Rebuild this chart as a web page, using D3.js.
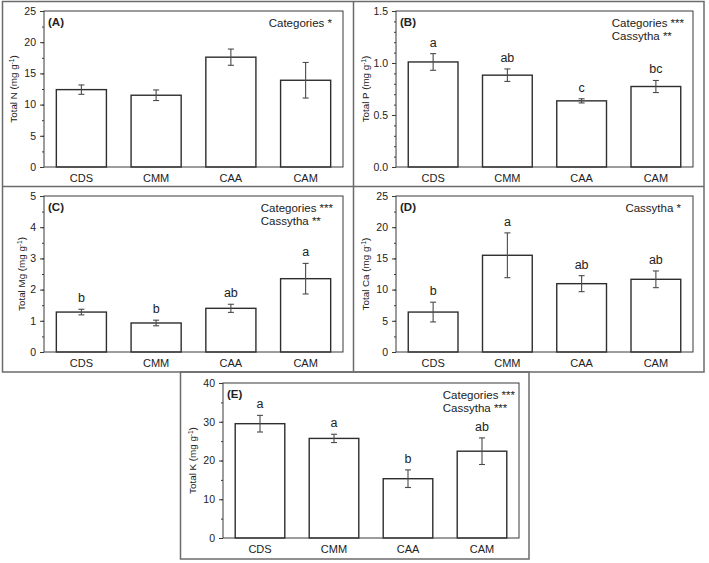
<!DOCTYPE html>
<meta charset="utf-8">
<html>
<style>
body { margin: 0; background: #fff; }
svg { display: block; font-family: "Liberation Sans", Arial, sans-serif; }
.frame { fill: none; stroke: #6b6b6b; stroke-width: 1.5; }
.plotbox { fill: none; stroke: #3a3a3a; stroke-width: 1; }
.bar { fill: #fff; stroke: #2e2e2e; stroke-width: 1.4; }
.err { stroke: #4a4a4a; stroke-width: 1.1; fill: none; }
.tick line { stroke: #3a3a3a; }
.domain { display: none; }
</style>
<body>
<script src="https://cdn.jsdelivr.net/npm/d3@7"></script>
<script>

// categories
var categories = ["CDS", "CMM", "CAA", "CAM"];

// (A) total N
var nMean = [12.4, 11.5, 17.6, 13.9];
var nErr = [0.75, 0.85, 1.3, 2.85];
// (B) total P
var pMean = [1.01, 0.883, 0.636, 0.774];
var pErr = [0.08, 0.06, 0.02, 0.058];
var pLetters = ["a", "ab", "c", "bc"];
// (C) total Mg
var mgMean = [1.28, 0.93, 1.40, 2.35];
var mgErr = [0.09, 0.09, 0.13, 0.49];
var mgLetters = ["b", "b", "ab", "a"];
// (D) total Ca
var caMean = [6.4, 15.5, 10.95, 11.65];
var caErr = [1.58, 3.59, 1.28, 1.34];
var caLetters = ["b", "a", "ab", "ab"];
// (E) total K
var kMean = [29.5, 25.7, 15.3, 22.4];
var kErr = [2.15, 1.07, 2.27, 3.43];
var kLetters = ["a", "a", "b", "ab"];

// stats text
var statsA = ["Categories *"];
var statsB = ["Categories ***", "Cassytha **"];
var statsC = ["Categories ***", "Cassytha **"];
var statsD = ["Cassytha *"];
var statsE = ["Categories ***", "Cassytha ***"];

var width = 709, height = 563;

var svg = d3.select("body").append("svg")
    .attr("width", width)
    .attr("height", height);

// outer frames
var frames = svg.append("g");
frames.append("rect").attr("class", "frame")
    .attr("x", 2.5).attr("y", 1.5).attr("width", 701.5).attr("height", 370.5);
frames.append("line").attr("class", "frame")
    .attr("x1", 353.5).attr("x2", 353.5).attr("y1", 1.5).attr("y2", 372);
frames.append("line").attr("class", "frame")
    .attr("x1", 2.5).attr("x2", 704).attr("y1", 186.5).attr("y2", 186.5);
frames.append("rect").attr("class", "frame")
    .attr("x", 180.5).attr("y", 372).attr("width", 348.5).attr("height", 187);

// panels: data + where they go
var panels = [
  {tag: "(A)", el: "N", mean: nMean, err: nErr, letters: null, stats: statsA,
   max: 25, step: 5, minor: 2.5, fmt: d3.format("d"),
   x0: 44, x1: 343, y0: 11, y1: 167, lab: 17, statPad: 11},
  {tag: "(B)", el: "P", mean: pMean, err: pErr, letters: pLetters, stats: statsB,
   max: 1.5, step: 0.5, minor: 0.1, fmt: d3.format(".1f"),
   x0: 396, x1: 693, y0: 11, y1: 167, lab: 369, statPad: 9},
  {tag: "(C)", el: "Mg", mean: mgMean, err: mgErr, letters: mgLetters, stats: statsC,
   max: 5, step: 1, minor: 0.5, fmt: d3.format("d"),
   x0: 44, x1: 343, y0: 196, y1: 352, lab: 25, statPad: 10},
  {tag: "(D)", el: "Ca", mean: caMean, err: caErr, letters: caLetters, stats: statsD,
   max: 25, step: 5, minor: 2.5, fmt: d3.format("d"),
   x0: 396, x1: 693, y0: 196, y1: 352, lab: 369, statPad: 12},
  {tag: "(E)", el: "K", mean: kMean, err: kErr, letters: kLetters, stats: statsE,
   max: 40, step: 10, minor: 5, fmt: d3.format("d"),
   x0: 223, x1: 519, y0: 383, y1: 538, lab: 196, statPad: 4}
];

panels.forEach(function(p) {
  var g = svg.append("g");

  var x = d3.scaleBand()
      .domain(categories)
      .range([p.x0, p.x1])
      .paddingInner(0.33)
      .paddingOuter(0.165);

  var y = d3.scaleLinear()
      .domain([0, p.max])
      .range([p.y1, p.y0]);

  // minor ticks
  var minorVals = d3.range(0, p.max + p.minor / 2, p.minor);
  g.append("g")
      .attr("transform", "translate(" + p.x0 + ",0)")
      .call(d3.axisLeft(y).tickValues(minorVals).tickSize(2).tickFormat(""))
      .call(function(a) { a.selectAll("line").attr("stroke", "#555"); });

  // major ticks
  var majorVals = d3.range(0, p.max + p.step / 2, p.step);
  g.append("g")
      .attr("transform", "translate(" + p.x0 + ",0)")
      .call(d3.axisLeft(y).tickValues(majorVals).tickSize(4).tickPadding(4).tickFormat(p.fmt))
      .call(function(a) {
        a.selectAll("text").attr("font-size", 10.5).attr("fill", "#222")
          .style("font-family", "Liberation Sans, Arial, sans-serif");
      });

  // bars
  g.selectAll(".bar")
    .data(categories)
    .enter().append("rect")
      .attr("class", "bar")
      .attr("x", function(d) { return x(d); })
      .attr("width", x.bandwidth())
      .attr("y", function(d, i) { return y(p.mean[i]); })
      .attr("height", function(d, i) { return y(0) - y(p.mean[i]); });

  // error bars
  var eb = g.selectAll(".eb")
    .data(categories)
    .enter().append("g").attr("class", "err");
  eb.append("line")
      .attr("x1", function(d) { return x(d) + x.bandwidth() / 2; })
      .attr("x2", function(d) { return x(d) + x.bandwidth() / 2; })
      .attr("y1", function(d, i) { return y(p.mean[i] + p.err[i]); })
      .attr("y2", function(d, i) { return y(p.mean[i] - p.err[i]); });
  [1, -1].forEach(function(s) {
    eb.append("line")
        .attr("x1", function(d) { return x(d) + x.bandwidth() / 2 - 3; })
        .attr("x2", function(d) { return x(d) + x.bandwidth() / 2 + 3; })
        .attr("y1", function(d, i) { return y(p.mean[i] + s * p.err[i]); })
        .attr("y2", function(d, i) { return y(p.mean[i] + s * p.err[i]); });
  });

  // letters
  if (p.letters) {
    g.selectAll(".lt")
      .data(categories)
      .enter().append("text")
        .attr("x", function(d) { return x(d) + x.bandwidth() / 2; })
        .attr("y", function(d, i) { return y(p.mean[i] + p.err[i]) - 7; })
        .attr("text-anchor", "middle")
        .attr("font-size", 12.5)
        .attr("fill", "#222")
        .text(function(d, i) { return p.letters[i]; });
  }

  // category labels
  g.selectAll(".cat")
    .data(categories)
    .enter().append("text")
      .attr("x", function(d) { return x(d) + x.bandwidth() / 2; })
      .attr("y", p.y1 + 15)
      .attr("text-anchor", "middle")
      .attr("font-size", 11)
      .attr("fill", "#222")
      .text(function(d) { return d; });

  // plot box
  g.append("rect").attr("class", "plotbox")
      .attr("x", p.x0).attr("y", p.y0)
      .attr("width", p.x1 - p.x0).attr("height", p.y1 - p.y0);

  // panel tag
  g.append("text")
      .attr("x", p.x0 + 4)
      .attr("y", p.y0 + 15)
      .attr("font-size", 11.5)
      .attr("font-weight", "bold")
      .attr("fill", "#222")
      .text(p.tag);

  // stats lines, left aligned, first line ends near right edge
  var st = g.append("g");
  var lines = st.selectAll("text")
    .data(p.stats)
    .enter().append("text")
      .attr("y", function(d, i) { return p.y0 + 16 + i * 12.5; })
      .attr("font-size", 11.5)
      .attr("fill", "#222")
      .text(function(d) { return d; });
  var w0 = lines.node().getComputedTextLength();
  lines.attr("x", p.x1 - p.statPad - w0);

  // y label
  var yl = g.append("text")
      .attr("transform", "translate(" + p.lab + "," + ((p.y0 + p.y1) / 2) + ") rotate(-90)")
      .attr("text-anchor", "middle")
      .attr("font-size", 9.8)
      .attr("fill", "#222");
  yl.append("tspan").text("Total " + p.el + " (mg g");
  yl.append("tspan").attr("dy", -3.5).attr("font-size", 6.5).text("-1");
  yl.append("tspan").attr("dy", 3.5).text(")");
});

</script>
</body>
</html>
